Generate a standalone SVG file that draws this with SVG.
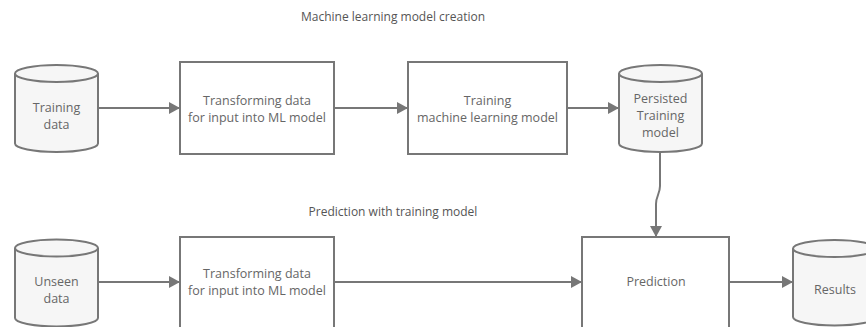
<svg xmlns="http://www.w3.org/2000/svg" width="866" height="327" viewBox="0 0 866 327">
<defs>
<marker id="ah" markerWidth="12" markerHeight="14" refX="11" refY="7" orient="auto" markerUnits="userSpaceOnUse">
<path d="M0,1 L11,7 L0,13 Z" fill="#777"/>
</marker>
</defs>
<style>
.box{fill:#fff;stroke:#777;stroke-width:2}
.cyl{fill:#f6f6f6;stroke:#777;stroke-width:2}
.t{font-family:"Open Sans","Noto Sans",sans-serif;font-size:12.5px;fill:#666;text-anchor:middle}
.h{font-family:"Open Sans","Noto Sans",sans-serif;font-size:12px;fill:#555;text-anchor:middle}
.c{fill:none;stroke:#777;stroke-width:2;marker-end:url(#ah)}
</style>
<rect width="866" height="327" fill="#fff"/>
<text class="h" x="393" y="21">Machine learning model creation</text>
<text class="h" x="393" y="216">Prediction with training model</text>

<g id="training-data">
<path class="cyl" d="M15,73.5 L15,143.5 A41.5,8.5 0 0 0 98,143.5 L98,73.5"/>
<ellipse class="cyl" cx="56.5" cy="73.5" rx="41.5" ry="8.5"/>
<text class="t" x="56.5" y="112">Training</text>
<text class="t" x="56.5" y="129">data</text>
</g>
<g id="transform1">
<rect class="box" x="180" y="62" width="154" height="92"/>
<text class="t" x="257" y="105">Transforming data</text>
<text class="t" x="257" y="122">for input into ML model</text>
</g>
<g id="train-model">
<rect class="box" x="408" y="62" width="159" height="92"/>
<text class="t" x="487.5" y="105">Training</text>
<text class="t" x="487.5" y="122">machine learning model</text>
</g>
<g id="persisted">
<path class="cyl" d="M619,73.5 L619,143.5 A41.5,8.5 0 0 0 702,143.5 L702,73.5"/>
<ellipse class="cyl" cx="660.5" cy="73.5" rx="41.5" ry="8.5"/>
<text class="t" x="660.5" y="103">Persisted</text>
<text class="t" x="660.5" y="120">Training</text>
<text class="t" x="660.5" y="137">model</text>
</g>
<g id="unseen-data">
<path class="cyl" d="M15,248 L15,318 A41.5,8.5 0 0 0 98,318 L98,248"/>
<ellipse class="cyl" cx="56.5" cy="248" rx="41.5" ry="8.5"/>
<text class="t" x="56.5" y="286">Unseen</text>
<text class="t" x="56.5" y="303">data</text>
</g>
<g id="transform2">
<rect class="box" x="180" y="237" width="154" height="100"/>
<text class="t" x="257" y="278">Transforming data</text>
<text class="t" x="257" y="295">for input into ML model</text>
</g>
<g id="prediction">
<rect class="box" x="582" y="237" width="147" height="100"/>
<text class="t" x="656" y="286">Prediction</text>
</g>
<g id="results">
<path class="cyl" d="M793,248.5 L793,317 A41.5,8.5 0 0 0 876,317 L876,248.5"/>
<ellipse class="cyl" cx="834.5" cy="248.5" rx="41.5" ry="8.5"/>
<text class="t" x="835" y="294">Results</text>
</g>
<g id="connectors">
<path class="c" d="M98,108 L180,108"/>
<path class="c" d="M334,108 L408,108"/>
<path class="c" d="M567,108 L619,108"/>
<path class="c" d="M660,152 L660,186 C660,194 656,196 656,204 L656,237"/>
<path class="c" d="M98,282 L180,282"/>
<path class="c" d="M334,282 L582,282"/>
<path class="c" d="M729,282 L793,282"/>
</g>
</svg>
